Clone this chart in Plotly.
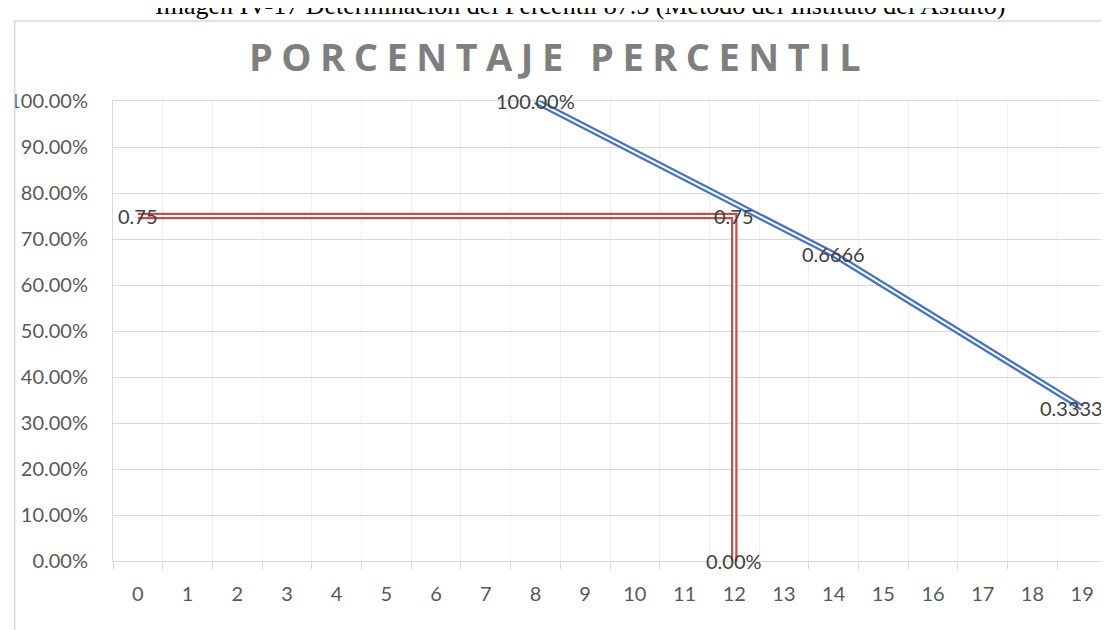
import plotly.graph_objects as go

# ---- data ----
categories = list(range(20))
blue_x = [8, 14, 19]
blue_y = [1.0, 0.6666, 0.3333]
blue_labels = ["100.00%", "0.6666", "0.3333"]
red_x = [0, 12, 12]
red_y = [0.75, 0.75, 0.0]
red_labels = ["0.75", "0.75", "0.00%"]
y_ticks = [i / 10 for i in range(11)]

title_text = "PORCENTAJE PERCENTIL"
caption_text = "Imagen IV-17 Determinación del Percentil 87.5 (Método del Instituto del Asfalto)"

# page has an 8px body margin: size the figure so it fills the 1109x630 window
OFF = 8
W, H = 1109 - OFF, 630 - OFF
L, R, T = 108 - OFF, 1, 101 - OFF
PW, PH = 1000, 460
B = H - T - PH


def px(x):  # page pixel x -> paper
    return (x - OFF - L) / PW


def py(y):  # page pixel y -> paper
    return (H - B - (y - OFF)) / PH


BLUE = "#4674C0"
RED = "#C0504D"
LBL = dict(family="Lato", size=20, color="#404040")

fig = go.Figure()

for xs, ys, col in [(red_x, red_y, RED), (blue_x, blue_y, BLUE)]:
    fig.add_trace(go.Scatter(x=xs, y=ys, mode="lines", line=dict(color=col, width=6.5),
                             hoverinfo="skip", showlegend=False, cliponaxis=False))
    fig.add_trace(go.Scatter(x=xs, y=ys, mode="lines", line=dict(color="white", width=2),
                             hoverinfo="skip", showlegend=False, cliponaxis=False))

# data labels, centred on their points; a label at the right edge is kept inside the chart
annotations = []
for xs, ys, labels in [(red_x, red_y, red_labels), (blue_x, blue_y, blue_labels)]:
    for x, y, t in zip(xs, ys, labels):
        at_edge = x == categories[-1]
        annotations.append(dict(
            text=t, x=x, y=y, xref="x", yref="y", showarrow=False,
            xanchor="right" if at_edge else "center", yanchor="middle",
            xshift=23 if at_edge else 0, font=LBL))

annotations += [
    dict(text='<span style="letter-spacing:8.5px">' + title_text + "</span>", xref="paper", yref="paper",
         x=px(557), y=py(56), xanchor="center", yanchor="middle", showarrow=False,
         font=dict(family="Open Sans", size=38, color="#7F7F7F", weight="bold")),
    dict(text=caption_text, xref="paper", yref="paper", x=px(578), y=py(5), xanchor="center",
         yanchor="middle", showarrow=False,
         font=dict(family="Liberation Serif", size=26, color="#000000")),
]

fig.update_layout(
    width=W, height=H,
    margin=dict(l=L, r=R, t=T, b=B),
    paper_bgcolor="white", plot_bgcolor="white",
    font=dict(family="Lato", size=20, color="#595959"),
    xaxis=dict(
        range=[-0.5, 19.5], tickmode="array", tickvals=categories,
        ticktext=[str(c) for c in categories], ticks="", showgrid=False,
        showline=True, linecolor="#D9D9D9", linewidth=1, mirror=True,
        ticklabelstandoff=15, zeroline=False,
        minor=dict(tick0=-0.5, dtick=1, showgrid=True, gridcolor="#F0F0F0", gridwidth=1,
                   ticks="outside", ticklen=7, tickcolor="#D9D9D9", tickwidth=1),
    ),
    yaxis=dict(
        range=[0, 1], tickmode="array", tickvals=y_ticks, tickformat=".2%",
        showgrid=True, gridcolor="#D9D9D9", gridwidth=1, zeroline=False,
        showline=True, linecolor="#D9D9D9", linewidth=1, mirror=True,
        ticks="", ticklabelstandoff=20,
    ),
    shapes=[
        dict(type="rect", xref="paper", yref="paper", x0=px(-5), x1=px(8.5), y0=py(640), y1=py(-10),
             fillcolor="white", line=dict(width=0), layer="above"),
        dict(type="line", xref="paper", yref="paper", x0=px(9), x1=px(9), y0=py(21), y1=py(640),
             line=dict(color="#D9D9D9", width=1.5), layer="above"),
        dict(type="line", xref="paper", yref="paper", x0=px(9), x1=px(1115), y0=py(21), y1=py(21),
             line=dict(color="#D9D9D9", width=1.5), layer="above"),
    ],
    annotations=annotations,
)

fig.write_html("out.html")
